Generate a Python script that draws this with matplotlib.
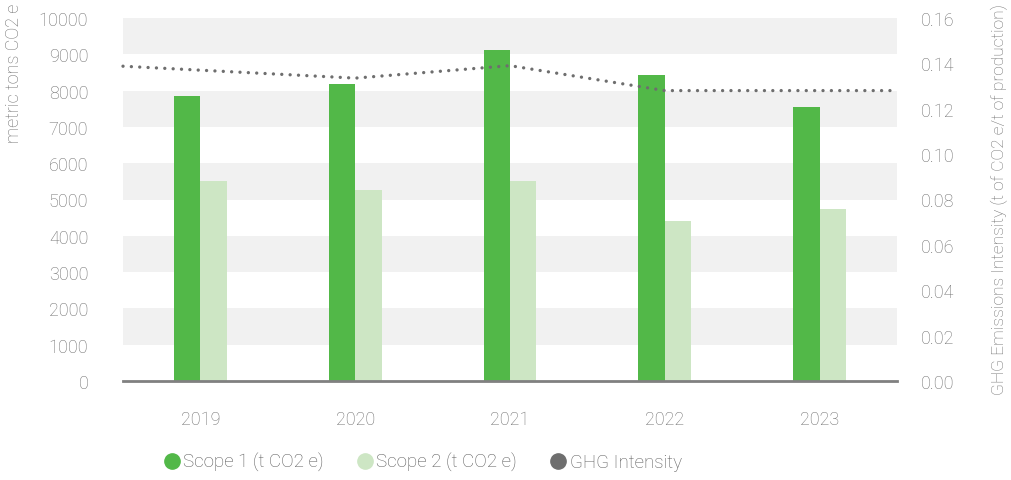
import matplotlib
matplotlib.use("Agg")
import matplotlib.pyplot as plt
import numpy as np
from matplotlib.lines import Line2D

years = ["2019", "2020", "2021", "2022", "2023"]
scope1 = [7860, 8190, 9120, 8430, 7550]
scope2 = [5520, 5270, 5520, 4400, 4730]
intensity = [0.137, 0.1335, 0.139, 0.128, 0.128]

green = "#52b848"
light_green = "#cde6c4"
grey_line = "#6e6e6e"
text_grey = "#6f6f6f"

plt.rcParams["font.family"] = ["Roboto", "DejaVu Sans"]
plt.rcParams["font.weight"] = "light"

W, H = 1011, 481
fig = plt.figure(figsize=(W / 100, H / 100), dpi=100)
ax = fig.add_axes([123 / W, 1 - 382 / H, (897 - 123) / W, (382 - 19) / H])

x = np.arange(len(years))
bw = 0.17

# alternating background bands
for lo in range(1000, 10000, 2000):
    ax.axhspan(lo, lo + 1000, color="#f1f1f1", zorder=0, lw=0)

ax.bar(x - bw / 2, scope1, bw, color=green, zorder=2)
ax.bar(x + bw / 2, scope2, bw, color=light_green, zorder=2)

ax.set_xlim(-0.5, len(years) - 0.5)
ax.set_ylim(0, 10000)
ax.set_yticks(range(0, 10001, 1000))
ax.set_xticks(x)
ax.set_xticklabels(years)
for s in ["top", "right", "left"]:
    ax.spines[s].set_visible(False)
ax.spines["bottom"].set_color("#808080")
ax.spines["bottom"].set_linewidth(2)
ax.tick_params(axis="both", length=0, labelsize=13, labelcolor=text_grey)
ax.tick_params(axis="y", pad=25)
ax.tick_params(axis="x", pad=21)

# secondary axis for intensity
ax2 = ax.twinx()
ax2.set_ylim(0, 0.16)
ax2.set_yticks(np.arange(0, 0.161, 0.02))
ax2.set_yticklabels([f"{v:.2f}" for v in np.arange(0, 0.161, 0.02)])
for s in ax2.spines.values():
    s.set_visible(False)
ax2.tick_params(axis="y", length=0, labelsize=13, labelcolor=text_grey, pad=17)

# line extends to the plot edges following the first/last segment
lx = np.concatenate([[-0.5], x, [len(years) - 0.5]])
first = intensity[0] - (intensity[1] - intensity[0]) / 2
last = intensity[-1] + (intensity[-1] - intensity[-2]) / 2
ly = np.concatenate([[first], intensity, [last]])
ax2.plot(lx, ly, color=grey_line, lw=2.4, linestyle=(0, (0.01, 2.5)),
         dash_capstyle="round", solid_capstyle="round", zorder=3, clip_on=False)

fig.text(14 / W, 1 - 4 / H, "metric tons CO2 e", rotation=90, ha="center", va="top",
         fontsize=13, color=text_grey)
fig.text(999 / W, 1 - 4 / H, "GHG Emissions Intensity (t of CO2 e/t of production)",
         rotation=90, ha="center", va="top", fontsize=12.5, color=text_grey)

handles = [
    Line2D([], [], marker="o", ls="", color=green, markersize=11),
    Line2D([], [], marker="o", ls="", color=light_green, markersize=11),
    Line2D([], [], marker="o", ls="", color=grey_line, markersize=11),
]
labels = ["Scope 1 (t CO2 e)", "Scope 2 (t CO2 e)", "GHG Intensity"]
leg = fig.legend(handles, labels, loc="center left", bbox_to_anchor=(157 / W, 1 - 463 / H),
                 ncol=3, frameon=False, handlelength=0.6, fontsize=13.5,
                 handletextpad=0.3, columnspacing=1.9, borderpad=0)
for t in leg.get_texts():
    t.set_color("#5a5a5a")

fig.savefig("out.png", dpi=100)
